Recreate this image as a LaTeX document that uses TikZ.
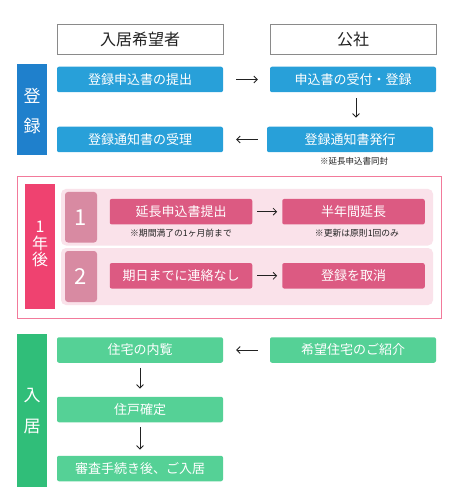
\documentclass[tikz,border=0pt]{standalone}
\usepackage{fontspec}
\newfontfamily\jp{Noto Sans CJK JP}
\usetikzlibrary{arrows.meta,calc}
\definecolor{hdrgray}{HTML}{8A8A8A}
\definecolor{bluebar}{HTML}{1F80CC}
\definecolor{bluebox}{HTML}{28A0D9}
\definecolor{pinkbar}{HTML}{EF4270}
\definecolor{pinkframe}{HTML}{F27A9B}
\definecolor{pinkpanel}{HTML}{FAE2EA}
\definecolor{pinknum}{HTML}{D88AA2}
\definecolor{pinkbox}{HTML}{DC5A82}
\definecolor{greenbar}{HTML}{30BE79}
\definecolor{greenbox}{HTML}{55D196}
\definecolor{txtdark}{HTML}{222222}
\tikzset{
  every node/.style={font=\jp},
  hdr/.style={draw=hdrgray,line width=0.9pt,fill=white,minimum width=166pt,minimum height=30pt,inner sep=0pt,text=txtdark,font=\jp\fontsize{16}{18}\selectfont},
  flowbox/.style={rounded corners=2pt,minimum width=166pt,minimum height=25.5pt,inner sep=0pt,text=white,font=\jp\fontsize{13}{15}\selectfont},
  bluestep/.style={flowbox,fill=bluebox},
  greenstep/.style={flowbox,fill=greenbox},
  pinkstep/.style={flowbox,fill=pinkbox,minimum width=142.5pt},
  sidelabel/.style={text=white,align=center,inner sep=0pt,font=\jp\fontsize{17}{30}\selectfont},
  note/.style={text=txtdark,inner sep=0pt,font=\jp\fontsize{8.5}{10}\selectfont},
  numlabel/.style={text=white,inner sep=0pt,font=\jp\fontsize{22}{24}\selectfont},
  arr/.style={draw=txtdark,line width=0.75pt,-{Straight Barb[length=3.5pt,width=7pt]}},
}
\begin{document}
\begin{tikzpicture}[x=1pt,y=-1pt]
\useasboundingbox[fill=white] (0,0) rectangle (456,502);

% header
\node[hdr] (h1) at (140,39) {入居希望者};
\node[hdr] (h2) at (353,39) {公社};

% registration section
\fill[bluebar] (17,64) rectangle (47,155);
\node[sidelabel] (lbl1) at (32,111) {登\\録};
\node[bluestep] (b1) at (140,79.5) {登録申込書の提出};
\node[bluestep] (b2) at (353,79.5) {申込書の受付・登録};
\node[bluestep] (b3) at (140,139.5) {登録通知書の受理};
\node[bluestep] (b4) at (350,139.5) {登録通知書発行};
\node[note] (n1) at (354,161) {※延長申込書同封};
\draw[arr,shorten <=13pt,shorten >=12pt] (b1.east) -- (b2.west);
\draw[arr,shorten <=6pt,shorten >=9pt] ([xshift=3pt]b2.south) -- ([xshift=3pt]b2.south |- b4.north);
\draw[arr,shorten <=9pt,shorten >=13pt] (b4.west) -- (b3.east);

% one year section
\draw[pinkframe,line width=1pt] (17,177) rectangle (441,318);
\fill[pinkbar] (25,184) rectangle (55,309);
\node[text=white,align=center,inner sep=0pt,font=\jp\fontsize{16}{16.5}\selectfont] (lbl2) at (40,244) {1\\年\\後};
\fill[pinkpanel,rounded corners=5pt] (61,189) rectangle (433,245.5);
\fill[pinkpanel,rounded corners=5pt] (61,248) rectangle (433,305);
\fill[pinknum,rounded corners=3pt] (65,192) rectangle (97,242.5);
\fill[pinknum,rounded corners=3pt] (65,251) rectangle (97,302);
\node[numlabel] (num1) at (81,217.5) {1};
\node[numlabel] (num2) at (81,276.5) {2};
\node[pinkstep] (p1) at (181,211.7) {延長申込書提出};
\node[pinkstep] (p2) at (353.5,211.7) {半年間延長};
\node[pinkstep] (p3) at (181,275.8) {期日までに連絡なし};
\node[pinkstep] (p4) at (353.5,275.8) {登録を取消};
\node[note,font=\jp\fontsize{8.8}{10}\selectfont] (n2) at (181,233.5) {※期間満了の1ヶ月前まで};
\node[note,font=\jp\fontsize{8.8}{10}\selectfont] (n3) at (357,233.5) {※更新は原則1回のみ};
\draw[arr,shorten <=5pt,shorten >=5pt] (p1.east) -- (p2.west);
\draw[arr,shorten <=5pt,shorten >=5pt] (p3.east) -- (p4.west);

% move-in section
\fill[greenbar] (17,334) rectangle (47,487);
\node[sidelabel,font=\jp\fontsize{17}{31}\selectfont] (lbl3) at (32,411.5) {入\\居};
\node[greenstep] (g1) at (140,350) {住宅の内覧};
\node[greenstep] (g2) at (353,350) {希望住宅のご紹介};
\node[greenstep] (g3) at (140,409.5) {住戸確定};
\node[greenstep] (g4) at (140,468.5) {審査手続き後、ご入居};
\draw[arr,shorten <=12pt,shorten >=13pt] (g2.west) -- (g1.east);
\draw[arr,shorten <=5pt,shorten >=8pt] (g1.south) -- (g3.north);
\draw[arr,shorten <=5pt,shorten >=6pt] (g3.south) -- (g4.north);
\end{tikzpicture}
\end{document}
